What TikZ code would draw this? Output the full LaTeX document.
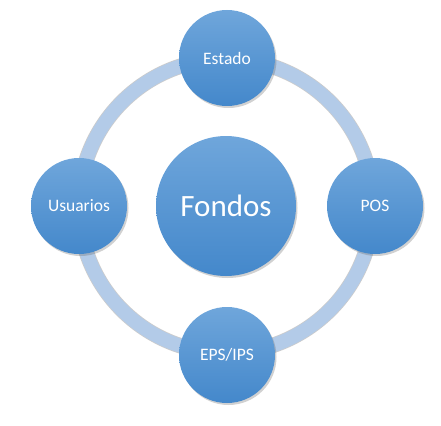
\documentclass[tikz,border=0pt]{standalone}
\usepackage{fontspec}
\setmainfont{Carlito}
\usetikzlibrary{shadows}
\definecolor{disctop}{HTML}{6FA6DB}
\definecolor{discbot}{HTML}{4488CB}
\definecolor{ringblue}{HTML}{B3CBE8}
\tikzset{disc/.style={circle,top color=disctop,bottom color=discbot,draw=none,inner sep=0pt,minimum size=96pt,text=white,font=\fontsize{17.5}{20}\selectfont,drop shadow={shadow xshift=1.5pt,shadow yshift=-2pt,opacity=0.3,fill=black!60}}, hub/.style={disc,minimum size=140pt,font=\fontsize{31}{35}\selectfont}, ring/.style={line width=14pt,draw=ringblue}}
\begin{document}
\begin{tikzpicture}
\useasboundingbox (0,0) rectangle (441pt,-425pt);
\node[hub] (fondos) at (226pt,-206pt) {Fondos};
\draw[ring,preaction={draw=black!20,line width=15.5pt}] (fondos.center) circle (147pt);
\node[disc] (estado) at (227pt,-58pt) {Estado};
\node[disc] (usuarios) at (79pt,-206pt) {Usuarios};
\node[disc] (pos) at (375pt,-206pt) {POS};
\node[disc] (eps) at (227pt,-355pt) {EPS/IPS};
\end{tikzpicture}
\end{document}
